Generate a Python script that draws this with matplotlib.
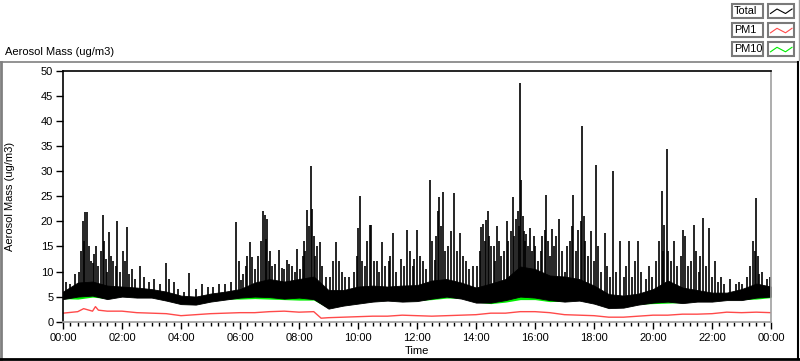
import numpy as np
import matplotlib
matplotlib.use("Agg")
import matplotlib.pyplot as plt
from matplotlib.lines import Line2D
from matplotlib.patches import Rectangle

# envelope of the Total / PM10 band, read every 30 min (hours 0..24)
env_hours = np.arange(49) * 0.5
total_lo = [4.5, 5.0, 5.2, 4.5, 5.0, 4.8, 4.8, 4.2, 3.5, 3.4, 4.0, 4.4, 4.8, 5.0, 4.9, 4.6,
            4.8, 4.5, 2.6, 3.2, 3.6, 4.0, 4.2, 4.0, 4.1, 4.6, 5.0, 4.6, 3.8, 3.8, 4.3, 5.0,
            4.8, 4.3, 4.0, 4.2, 3.6, 2.7, 2.8, 3.4, 3.8, 4.0, 3.7, 4.0, 4.0, 4.3, 4.3, 4.8, 5.0]
total_hi = [6.0, 7.8, 8.0, 7.2, 7.0, 6.8, 6.5, 6.0, 5.2, 5.0, 5.6, 6.0, 6.5, 7.8, 8.5, 8.0,
            8.5, 9.0, 6.3, 6.3, 7.0, 7.2, 7.0, 7.2, 7.3, 8.2, 8.5, 7.8, 6.8, 7.6, 8.5, 11.0,
            10.5, 9.2, 9.0, 8.5, 7.2, 5.5, 5.2, 5.6, 6.5, 8.2, 6.8, 6.3, 5.8, 5.8, 6.5, 7.6, 7.0]
pm10_lo = [4.6, 4.5, 4.9, 4.6, 5.1, 4.9, 4.9, 4.3, 3.6, 3.5, 4.1, 4.5, 4.5, 4.6, 4.5, 4.4,
           4.3, 4.3, 2.7, 3.3, 3.7, 4.1, 4.3, 4.1, 4.2, 4.4, 4.7, 4.7, 3.9, 3.6, 3.9, 4.4,
           4.4, 4.0, 4.1, 4.3, 3.7, 2.8, 2.9, 3.5, 3.6, 3.7, 3.8, 4.1, 4.1, 4.4, 4.4, 4.5, 4.8]
pm10_hi = [5.5, 7.0, 7.0, 6.0, 6.0, 6.0, 5.8, 5.2, 4.6, 4.5, 5.0, 5.3, 5.8, 7.0, 7.5, 7.0,
           7.5, 7.5, 5.0, 5.0, 5.5, 6.0, 6.0, 6.0, 6.0, 7.0, 7.5, 6.5, 5.5, 6.0, 7.0, 9.0,
           8.5, 7.5, 7.0, 7.0, 6.0, 4.5, 4.3, 4.6, 5.5, 7.0, 5.5, 5.3, 5.0, 5.0, 5.5, 6.5, 6.0]

# short peaks of Total (hour, ug/m3)
spike_hours = [0.10, 0.25, 0.40, 0.55, 0.60, 0.67, 0.70, 0.75, 0.82, 0.88, 0.95, 1.00, 1.05,
               1.12, 1.20, 1.28, 1.34, 1.40, 1.45, 1.50, 1.56, 1.62, 1.70, 1.78, 1.84, 1.92,
               2.05, 2.10, 2.16, 2.25, 2.35, 2.45, 2.60, 2.75, 2.90, 3.10, 3.30, 3.50, 3.60,
               3.75, 3.90,
               4.10, 4.27, 4.50, 4.70, 4.90, 5.10, 5.30, 5.50, 5.70, 5.86, 5.95, 6.05, 6.10,
               6.20, 6.25, 6.34, 6.42, 6.50, 6.60, 6.70, 6.77, 6.84, 6.88, 6.92, 6.97, 7.02,
               7.10, 7.20, 7.31, 7.41, 7.50, 7.59, 7.65, 7.75, 7.85, 7.92,
               8.05, 8.12, 8.18, 8.22, 8.28, 8.35, 8.40, 8.45, 8.50, 8.55, 8.62, 8.70, 8.78,
               8.90, 9.05, 9.15, 9.27, 9.35, 9.45, 9.55, 9.70, 9.85, 9.95, 10.00, 10.07,
               10.15, 10.25, 10.30, 10.40, 10.45, 10.55, 10.65, 10.70, 10.80, 10.90, 11.05,
               11.10, 11.20, 11.30, 11.45, 11.55, 11.65, 11.75, 11.85, 11.90,
               12.00, 12.10, 12.20, 12.30, 12.44, 12.50, 12.60, 12.65, 12.70, 12.76, 12.82,
               12.87, 12.95, 13.05, 13.15, 13.27, 13.35, 13.45, 13.55, 13.65, 13.75, 13.90,
               14.05, 14.12, 14.17, 14.25, 14.30, 14.34, 14.40, 14.45, 14.52, 14.60, 14.65,
               14.70, 14.78, 14.85, 14.95, 15.04, 15.10, 15.18, 15.24, 15.30, 15.35, 15.42,
               15.45, 15.50, 15.53, 15.58, 15.62, 15.66, 15.70, 15.75, 15.83, 15.90, 15.95,
               16.00, 16.10, 16.20, 16.25, 16.34, 16.37, 16.45, 16.50, 16.56, 16.65, 16.72,
               16.80, 16.90, 17.00, 17.10, 17.18, 17.25, 17.30, 17.38, 17.47, 17.55, 17.58,
               17.65, 17.70, 17.80, 17.90, 18.00, 18.07, 18.15, 18.25, 18.37, 18.45, 18.55,
               18.65, 18.75, 18.88, 19.00, 19.10, 19.20, 19.30, 19.40, 19.50, 19.60, 19.75,
               19.85, 19.95,
               20.10, 20.20, 20.29, 20.33, 20.38, 20.46, 20.50, 20.60, 20.70, 20.80, 20.95,
               21.03, 21.10, 21.20, 21.30, 21.40, 21.45, 21.55, 21.60, 21.68, 21.80, 21.90,
               22.00, 22.10, 22.20, 22.30, 22.40, 22.60, 22.80, 22.90, 23.00, 23.20, 23.30,
               23.40, 23.45, 23.50, 23.55, 23.60, 23.70, 23.85, 23.95]
spike_vals = [8.0, 7.5, 9.5, 10.0, 14.0, 20.1, 16.0, 21.8, 21.8, 15.0, 12.0, 11.7, 13.5,
              15.0, 11.0, 14.0, 21.3, 16.0, 12.5, 10.0, 17.9, 13.0, 12.0, 11.0, 20.1, 10.0,
              14.0, 12.0, 18.9, 9.5, 10.5, 8.5, 11.0, 9.0, 8.0, 8.5, 7.5, 11.7, 8.5,
              8.0, 6.5,
              6.0, 9.8, 6.5, 7.5, 7.0, 7.0, 7.5, 7.5, 8.0, 19.9, 12.0, 8.3, 9.5,
              11.0, 13.0, 15.9, 12.9, 10.5, 13.0, 16.0, 22.0, 21.2, 16.5, 20.5, 12.0, 14.0,
              11.0, 11.5, 14.3, 10.6, 10.5, 12.3, 11.5, 11.0, 10.0, 14.5,
              10.5, 13.0, 16.0, 14.0, 22.2, 19.0, 31.0, 22.5, 17.0, 13.0, 15.0, 15.8, 11.0,
              9.0, 9.0, 12.0, 15.9, 12.0, 10.0, 9.0, 9.0, 10.0, 13.0, 18.6, 25.0,
              12.0, 11.0, 16.0, 19.3, 19.3, 12.0, 12.0, 10.0, 15.9, 11.0, 12.0,
              13.0, 17.6, 10.0, 12.5, 11.0, 18.3, 14.0, 11.0, 12.5,
              18.3, 13.0, 12.0, 10.5, 28.2, 16.0, 12.3, 17.0, 22.0, 24.9, 19.0,
              25.9, 14.0, 15.0, 18.0, 25.6, 14.0, 17.6, 13.0, 12.0, 10.5, 11.0,
              11.0, 14.0, 18.9, 19.4, 16.0, 20.3, 22.0, 17.0, 15.0, 15.0, 12.0,
              19.0, 16.0, 13.0, 14.0, 20.1, 16.0, 18.0, 24.9, 17.0, 20.5, 22.0,
              19.0, 47.6, 28.2, 21.0, 18.0, 16.0, 17.5, 15.0, 18.7, 14.0, 17.0,
              15.0, 12.0, 14.0, 17.0, 18.2, 25.2, 16.0, 13.0, 18.5, 15.0, 17.0,
              20.5, 14.0, 10.0, 15.0, 16.0, 19.1, 25.2, 14.0, 18.3, 20.0, 39.0,
              21.0, 16.0, 13.0, 18.0, 12.0, 31.2, 15.0, 10.0, 17.6, 11.0, 9.0,
              30.0, 10.0, 16.0, 9.0, 11.0, 16.0, 9.0, 12.0, 16.0, 10.0, 8.5,
              11.0, 9.0,
              12.0, 16.0, 26.0, 14.0, 19.3, 34.5, 14.0, 12.0, 16.0, 11.0, 13.0,
              18.3, 17.0, 11.0, 12.0, 19.3, 14.0, 10.0, 13.0, 20.6, 11.0, 18.6,
              9.0, 12.0, 8.0, 9.0, 7.5, 8.5, 7.5, 8.0, 7.5, 9.0, 11.0,
              16.0, 14.0, 24.6, 13.0, 9.5, 10.0, 8.5, 9.0]

pm1_hours = [0.0, 0.5, 0.7, 1.0, 1.1, 1.2, 1.5, 2.0, 2.5, 3.0, 3.5, 4.0, 4.5, 5.0, 5.5, 6.0,
             6.5, 7.0, 7.5, 8.0, 8.5, 8.75, 9.0, 9.5, 10.0, 10.5, 11.0, 11.5, 12.0, 12.5,
             13.0, 13.5, 14.0, 14.5, 15.0, 15.5, 16.0, 16.5, 17.0, 17.5, 18.0, 18.5, 19.0,
             19.5, 20.0, 20.5, 21.0, 21.5, 22.0, 22.5, 23.0, 23.5, 24.0]
pm1_vals = [1.7, 2.0, 2.6, 2.1, 3.0, 2.3, 2.1, 2.1, 1.8, 1.7, 1.6, 1.2, 1.4, 1.6, 1.7, 1.8,
            1.8, 2.0, 2.1, 1.9, 2.0, 0.7, 0.8, 0.9, 1.0, 1.1, 1.1, 1.3, 1.2, 1.1,
            1.2, 1.3, 1.4, 1.7, 1.7, 2.0, 2.0, 1.8, 1.4, 1.3, 1.2, 0.9, 0.9,
            1.1, 1.3, 1.3, 1.5, 1.5, 1.6, 1.9, 1.8, 1.9, 1.8]

series_names = ["Total", "PM1", "PM10"]
series_colors = ["black", "#ff4a4a", "#00ee00"]
tick_hours = list(range(0, 25, 2))
tick_labels = ["%02d:00" % (h % 24) for h in tick_hours]

W, H = 800, 361
plt.rcParams["font.family"] = ["Liberation Sans", "DejaVu Sans"]
plt.rcParams["font.size"] = 8

fig = plt.figure(figsize=(W / 100, H / 100), dpi=100)
ax = fig.add_axes([63 / W, 1 - 321.7 / H, (771 - 63) / W, (321.7 - 70.7) / H])

# data: PM10 under Total, PM1 on top
ax.fill_between(env_hours, pm10_lo, pm10_hi, color=series_colors[2], lw=0)
ax.fill_between(env_hours, total_lo, total_hi, color=series_colors[0], lw=0.6)
base = np.interp(spike_hours, env_hours, total_lo)
ax.vlines(spike_hours, base, spike_vals, color=series_colors[0], lw=1.2)
ax.plot(pm1_hours, pm1_vals, color=series_colors[1], lw=1.0)

ax.set_xlim(0, 24)
ax.set_ylim(0, 50)
ax.set_yticks(range(0, 51, 5))
ax.set_xticks(tick_hours)
ax.set_xticklabels(tick_labels)
ax.set_xticks(np.arange(0, 24.01, 0.25), minor=True)
ax.tick_params(axis="both", direction="out", length=5, width=1, color="black", pad=2)
ax.tick_params(axis="x", which="minor", length=3, width=1)
ax.tick_params(axis="x", pad=3)
for s in ["left", "top"]:
    ax.spines[s].set_color("black")
for s in ["right", "bottom"]:
    ax.spines[s].set_color("#a0a0a0")
for s in ax.spines.values():
    s.set_linewidth(1.2)

ax.set_xlabel("Time", labelpad=2)
ax.set_ylabel("Aerosol Mass (ug/m3)")
ax.yaxis.set_label_coords((15 - 63) / 708, 0.5)


def px(x, y):
    return x / W, 1 - y / H


# outer frame of the graph panel
for (x0, y0, x1, y1, c, lw) in [(0, 62, 798, 62, "#808080", 1.2), (1, 62, 1, 359, "#808080", 2),
                                 (0, 359, 799, 359, "black", 2), (798, 62, 798, 359, "black", 1.5)]:
    a, b = px(x0, y0)
    c2, d = px(x1, y1)
    fig.add_artist(Line2D([a, c2], [b, d], color=c, lw=lw))

fig.text(5 / W, 1 - 52 / H, "Aerosol Mass (ug/m3)", ha="left", va="center")

# legend in the top right corner
box_top = [4, 23.3, 42.3]
for i, name in enumerate(series_names):
    y0 = box_top[i]
    for (bx, bw) in [(732.3, 31), (768, 26)]:
        l, b = px(bx, y0 + 13.5)
        fig.add_artist(Rectangle((l, b), bw / W, 13.5 / H, fill=False,
                                 edgecolor="#7a7a7a", lw=1.5, transform=fig.transFigure))
    fig.text(734 / W, 1 - (y0 + 7) / H, name, ha="left", va="center", fontsize=7.8)
    xs = [770.5, 777, 785.5, 792]
    ys = [y0 + 9.5, y0 + 5, y0 + 9.5, y0 + 5]
    fig.add_artist(Line2D([x / W for x in xs], [1 - y / H for y in ys],
                          color=series_colors[i], lw=0.8))
fig.add_artist(Line2D([799 / W, 799 / W], [1 - 0 / H, 1 - 60 / H], color="#a0a0a0", lw=1))

fig.savefig("out.png", dpi=100)
